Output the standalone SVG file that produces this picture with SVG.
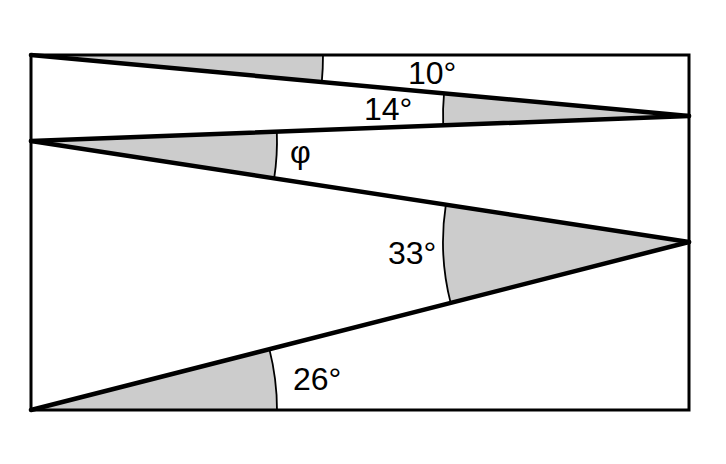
<svg xmlns="http://www.w3.org/2000/svg" width="726" height="464" viewBox="0 0 726 464">
<style>
.sec{fill:#cccccc;stroke:none}
.arc{fill:none;stroke:#000;stroke-width:1.8}
.zz{stroke:#000;stroke-width:4.5;stroke-linecap:round}
.lbl{font-family:"Liberation Sans",Arial,sans-serif;font-size:32px;fill:#000}
</style>
<rect x="0" y="0" width="726" height="464" fill="#ffffff"/>
<g id="sectors">
<path class="sec" d="M31,55 L323,55 A292,292 0 0,1 321.8,81.95 Z"/>
<path class="sec" d="M689,116 L444.04,93.29 A246,246 0 0,0 443.18,125.34 Z"/>
<path class="sec" d="M31,141 L276.82,131.66 A246,246 0 0,1 274.15,178.32 Z"/>
<path class="sec" d="M689,242 L445.85,204.68 A246,246 0 0,0 450.64,302.86 Z"/>
<path class="sec" d="M31,410 L269.36,349.14 A246,246 0 0,1 277,410 Z"/>
</g>
<g id="arcs">
<path class="arc" d="M323,55 A292,292 0 0,1 321.8,81.95"/>
<path class="arc" d="M444.04,93.29 A246,246 0 0,0 443.18,125.34"/>
<path class="arc" d="M276.82,131.66 A246,246 0 0,1 274.15,178.32"/>
<path class="arc" d="M445.85,204.68 A246,246 0 0,0 450.64,302.86"/>
<path class="arc" d="M269.36,349.14 A246,246 0 0,1 277,410"/>
</g>
<g id="connectors">
<line class="zz" x1="31" y1="55" x2="689" y2="116"/>
<line class="zz" x1="689" y1="116" x2="31" y2="141"/>
<line class="zz" x1="31" y1="141" x2="689" y2="242"/>
<line class="zz" x1="689" y1="242" x2="31" y2="410"/>
</g>
<g id="frame">
<rect x="31" y="55" width="658" height="355" fill="none" stroke="#000" stroke-width="3"/>
</g>
<g id="labels">
<text class="lbl" x="408" y="84">10°</text>
<text class="lbl" x="364" y="120">14°</text>
<text class="lbl" x="388" y="264">33°</text>
<text class="lbl" x="293" y="390">26°</text>
<text class="lbl" x="290" y="163">φ</text>
</g>
</svg>
